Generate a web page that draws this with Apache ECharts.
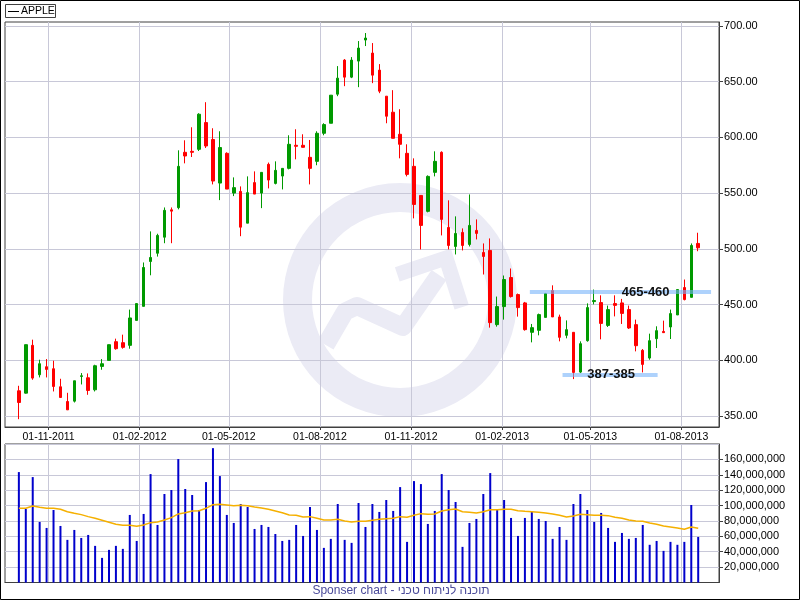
<!DOCTYPE html>
<html>
<head>
<meta charset="utf-8">
<script src="https://cdn.jsdelivr.net/npm/echarts@6.0.0/dist/echarts.min.js"></script>
<style>html,body{margin:0;padding:0;background:#fff}#c{width:800px;height:600px}</style>
</head>
<body>
<div id="c"></div>
<script>
// ---------------- DATA ----------------
const seriesName = 'APPLE';
const firstWeek = '2011-10-02';           // first weekly candle
const axisStart = '2011-09-18';
const axisEnd = '2013-09-08';

const openP = [372.5,370.4,413.3,386.9,394.1,392.3,376.1,362.9,363.2,385.4,
  384.2,373.4,394.4,399.8,416.6,415.7,413.3,435.7,448.3,488.6,
  496,510.4,535,536.9,586.6,587.5,589.3,613.3,598.1,559,
  585.7,550,551.5,523,559.4,550,575.8,558.7,565.3,572.2,
  592.9,592.9,582.1,578.5,603.7,612.7,638.8,669.4,654.1,668.5,
  687.4,675.7,660.4,637,622.6,602.8,585.7,574,547.9,533.6,
  568.6,586.6,519.2,502.1,514.7,503.9,516.5,496.7,498.5,431.9,
  448.1,474.2,458.9,451.4,425,426.8,438.4,462.5,438.8,422.3,
  425,389.3,417.5,452.6,451.7,431.2,450.8,451.4,445.4,431.9,
  408.8,401.9,419.3,425.8,429.8,440.6,465.2,456.4,504.8];
const closeP = [362,413.9,383.9,396.8,391.7,376.4,366.5,355.4,381.5,386,
  372.8,395,396.8,413.9,410.3,411.5,437.9,450.8,483.2,492.2,
  512,534.5,533.8,574,583.3,586.6,620.8,592.3,560.8,590.9,
  553.6,554.9,519.4,550.4,549.1,568.6,561.7,570.4,572.2,593.8,
  592,591.1,572.2,603.7,611.5,637.9,653.2,654.1,669.4,680.2,
  689.2,655.9,641.5,619,599.2,593.8,566.8,539.8,521,565,
  578.5,526.4,503,513.8,503,521,513.8,493.1,433.7,448.1,
  472.4,457.1,447.2,427.4,429.2,440.9,459.8,438.8,420.5,427.4,
  389,414.8,447.2,453.5,433,445.4,449.2,442,428.9,413,
  396.2,417.5,426.5,424.7,441.8,463.4,454.4,503,500.9];
const lowP = [347,370,382.4,384.5,384.5,371.9,366.5,355.4,362,378.2,
  368.9,371.9,391.4,399.8,409.4,410.3,410.3,435.7,448.3,476.2,
  493,505,505,535.4,576.7,582.4,587.8,590.5,557.8,543.7,
  553.6,547.3,511.3,523,549.1,536.5,554.2,557.8,553.3,571.3,
  580.3,590.8,557.8,575,601.9,612.7,637,646,653.2,645.1,
  682,648.7,639.7,612.7,599.2,581.2,565,527.3,499.4,532.7,
  565,512,499.4,494.9,498.5,502.1,508.4,476.9,429.2,430.1,
  436.4,456.2,439.1,426.5,416,422.3,438.4,438.8,416.9,419.6,
  383,388.4,416.6,450.1,418.7,429.8,439.3,432.5,428,407.9,
  389,400.4,410.9,424.4,419,440.6,453.7,456.4,497.8];
const highP = [377,414,418.4,400.4,401,399.5,383.3,370.7,381.5,388.4,
  388.1,395.9,401,414,419.3,422.9,445.4,451,487.7,515.6,
  513.5,537.1,537.1,588.4,597.4,609.1,621.7,631.6,608.2,605.5,
  586.6,564.1,556,565,569.5,568.6,577.4,578.5,572.2,601.9,
  607.3,602.8,597.7,605.5,612.7,638,664,670.3,672.1,686.5,
  693.7,684.7,665.8,637,642.4,625.3,593.8,581.2,547.9,565.9,
  587.5,587.5,543.5,529.1,518.3,548.8,526.4,504.8,509.3,457.1,
  476,482.3,459.8,452.3,432.5,441.8,460.4,467.2,440.9,435.7,
  425,416.9,451,463.4,458.2,449,458.2,455,449,436.4,
  410,423.8,430.4,435.5,445.4,463.4,472.4,504.8,514.4];
// weekly volume, millions of shares
const volumeM = [143.5,95.5,137,78.7,70.9,94.2,73.5,55.4,68.3,57.9,
  61.8,47.6,32,42.4,47.6,43.7,87.8,54,89.1,140.9,
  74.8,115,120.2,160.4,121.5,113.7,94.2,130.5,174.6,138.3,
  87.8,77.4,102,98.1,69.6,74.8,72.2,63,54,55.4,
  74.8,60.5,98.1,68.3,45,56.7,102,55.4,51.5,103.3,
  72.2,102,91.7,107.2,93,124,52.8,131.8,127.9,76.1,
  93,140.9,120.2,104.6,46.3,77.4,82.6,115,142.2,94.2,
  107.2,83.9,60.5,83.9,91.7,82.6,79.9,56.7,72.2,55.4,
  102,115,94.2,78.7,90.4,70.9,52.8,64.4,56.7,57.9,
  74.8,49,54,41.1,52.8,49,52.8,100.7,59.2];
// volume moving average, millions
const volumeAvgM = [96.4,96.4,99.4,97.7,96.4,96.4,95.1,92,90,88.2,
  85.6,83.5,80.9,78.3,75.7,74.4,74.4,73.1,74.8,77.8,
  78.7,81.3,84.3,89.1,90.7,93,93.3,96.4,101.1,101.6,
  100.7,99.8,100.3,99.8,98.1,96.8,95.3,93,90.7,87.8,
  87.3,85.2,85.6,83.5,81.3,81.3,82.2,80,78.7,79.6,
  79.6,80.9,82.2,83,83.5,85.6,84.8,87.3,89.5,88.7,
  89.1,93,94.6,95.5,92,91.3,90.4,92,94.6,94.6,
  95.1,95.1,93.3,92.6,92,91.3,90.4,89.1,87.3,85.2,
  86.5,88.7,88.2,87.3,87.3,86.9,84.8,83.5,81.3,80,
  79.6,77.4,75.7,73.5,72.2,70.9,69.2,72.2,70.5];

const dateTicks = ['2011-11-01','2012-02-01','2012-05-01','2012-08-01',
  '2012-11-01','2013-02-01','2013-05-01','2013-08-01'];
const priceTicks = [350,400,450,500,550,600,650,700];
const supportFrom = ['2013-03-01','2013-04-03'];
const supportTo = ['2013-08-31','2013-07-08'];
const supportPrice = [461,387.3];
const supportLabel = ['465-460','387-385'];
const supportLabelAt = ['2013-06-26','2013-05-22'];
const footerText = 'Sponser chart - תוכנה לניתוח טכני';

// ---------------- HELPERS ----------------
function ts(s){ const p = s.split('-').map(Number); return new Date(p[0], p[1]-1, p[2]).getTime(); }
function pad(n){ return (n<10?'0':'') + n; }
function fmtDate(v){ const d = new Date(v); return pad(d.getDate()) + '-' + pad(d.getMonth()+1) + '-' + d.getFullYear(); }
const f0 = firstWeek.split('-').map(Number);
const weeks = openP.map((_, i) => new Date(f0[0], f0[1]-1, f0[2] + 7*i).getTime());
const tickTs = dateTicks.map(ts);
const tMin = ts(axisStart), tMax = ts(axisEnd);
const FONT = "'Liberation Sans', Arial, sans-serif";
const GRID_C = '#c8c8d8', AX_C = '#404040', WM = '#ebebf5';

const chart = echarts.init(document.getElementById('c'), null, {renderer:'canvas'});
chart.setOption({
  animation: false,
  backgroundColor: '#fff',
  grid: [
    {left:5, right:81, top:22, height:405, show:true, borderColor:AX_C, borderWidth:1},
    {left:5, right:81, top:444, height:138.5, show:true, borderColor:AX_C, borderWidth:1}
  ],
  xAxis: [
    {type:'value', gridIndex:0, min:tMin, max:tMax, scale:true,
     axisLine:{show:true, onZero:false, lineStyle:{color:AX_C}},
     axisTick:{show:true, length:3, customValues:tickTs, lineStyle:{color:AX_C}},
     axisLabel:{show:true, customValues:tickTs, formatter:fmtDate, margin:5, color:'#000', fontSize:10.5, fontFamily:FONT},
     splitLine:{show:true, lineStyle:{color:GRID_C, width:1}}},
    {type:'value', gridIndex:1, min:tMin, max:tMax, scale:true,
     axisLine:{show:true, onZero:false, lineStyle:{color:AX_C}},
     axisTick:{show:false, customValues:tickTs},
     axisLabel:{show:false, customValues:tickTs},
     splitLine:{show:true, lineStyle:{color:GRID_C, width:1}}}
  ],
  yAxis: [
    {type:'value', gridIndex:0, position:'right', min:340, max:703.6, scale:true,
     axisLine:{show:true, lineStyle:{color:AX_C}},
     axisTick:{show:true, length:4, customValues:priceTicks, lineStyle:{color:AX_C}},
     axisLabel:{customValues:priceTicks, formatter:v => v.toFixed(2), margin:5, color:'#000', fontSize:11, fontFamily:FONT},
     splitLine:{show:true, lineStyle:{color:GRID_C, width:1}}},
    {type:'value', gridIndex:1, position:'right', min:0, max:180, interval:20,
     axisLine:{show:true, lineStyle:{color:AX_C}},
     axisTick:{show:true, length:4, lineStyle:{color:AX_C}},
     axisLabel:{showMinLabel:false, showMaxLabel:false, formatter:v => (v*1e6).toLocaleString('en-US'), margin:5, color:'#000', fontSize:11, fontFamily:FONT},
     splitLine:{show:true, lineStyle:{color:GRID_C, width:1}}}
  ],
  graphic: [
    {type:'ring', silent:true, z:-10, shape:{cx:400, cy:300, r:117, r0:88}, style:{fill:WM}},
    {type:'polyline', silent:true, z:-10, shape:{points:[[325.7,345],[345,311.7],[357,306],[403,327],[439,275]]},
     style:{stroke:WM, lineWidth:18, fill:null, lineJoin:'round', lineCap:'butt'}},
    {type:'polyline', silent:true, z:-10, shape:{points:[[397.3,274.3],[446,258],[461.7,307.3]]},
     style:{stroke:WM, lineWidth:15, fill:null, lineJoin:'miter', lineCap:'butt'}},
    {type:'rect', silent:true, z:100, shape:{x:5.5, y:4.5, width:50, height:13}, style:{fill:'#fff', stroke:AX_C, lineWidth:1}},
    {type:'line', silent:true, z:101, shape:{x1:8, y1:11.5, x2:19, y2:11.5}, style:{stroke:'#000', lineWidth:1}},
    {type:'text', silent:true, z:101, style:{text:seriesName, x:21, y:11.5, verticalAlign:'middle', font:'10.5px ' + FONT, fill:'#000'}},
    {type:'text', silent:true, z:101, style:{text:footerText, x:401, y:591, align:'center', verticalAlign:'middle', font:'12px ' + FONT, fill:'#4a4a9a'}},
    {type:'rect', silent:true, z:102, shape:{x:0.5, y:0.5, width:799, height:599}, style:{fill:null, stroke:'#000', lineWidth:1}}
  ],
  series: [
    {name:seriesName, type:'candlestick', xAxisIndex:0, yAxisIndex:0, barWidth:3,
     data: weeks.map((t,i) => [t, openP[i], closeP[i], lowP[i], highP[i]]),
     itemStyle:{color:'#009900', color0:'#ff0000', borderColor:'#009900', borderColor0:'#ff0000', borderWidth:1},
     markLine:{silent:true, symbol:['none','none'], animation:false, label:{show:false},
       lineStyle:{color:'rgba(120,180,250,0.6)', width:4, type:'solid'},
       emphasis:{disabled:true},
       data: supportPrice.map((p,i) => [{coord:[ts(supportFrom[i]), p]}, {coord:[ts(supportTo[i]), p]}])},
     markPoint:{silent:true, symbol:'circle', symbolSize:1, itemStyle:{color:'rgba(0,0,0,0)'},
       label:{show:true, position:'inside', formatter:'{b}', color:'#111', fontWeight:'bold', fontSize:13,
              fontFamily:FONT},
       data: supportPrice.map((p,i) => ({name:supportLabel[i], coord:[ts(supportLabelAt[i]), p]}))}
    },
    {name:'Volume', type:'bar', xAxisIndex:1, yAxisIndex:1, barWidth:2,
     data: weeks.map((t,i) => [t, volumeM[i]]), itemStyle:{color:'#0000cc'}},
    {name:'Average', type:'line', xAxisIndex:1, yAxisIndex:1, symbol:'none', z:5,
     data: weeks.map((t,i) => [t, volumeAvgM[i]]), lineStyle:{color:'#f5b000', width:1.5}}
  ]
});
</script>
</body>
</html>
